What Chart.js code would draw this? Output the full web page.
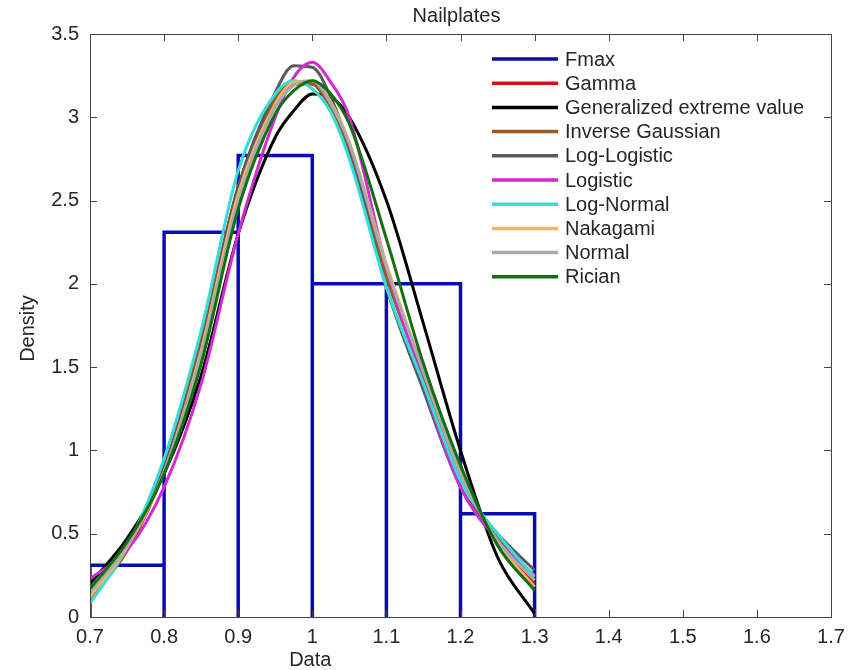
<!DOCTYPE html>
<html>
<head>
  <title>Nailplates</title>
  <script src="https://cdn.jsdelivr.net/npm/chart.js"></script>
  <style>
    body { margin: 0; background: #fff; }
  </style>
</head>
<body>
  <canvas id="fitChart" width="858" height="670"></canvas>

  <script>
    // histogram of Fmax (bin edges + density heights)
    const binEdges = [0.7, 0.8, 0.9, 1.0, 1.1, 1.2, 1.3];
    const fmaxHeights = [0.31, 2.31, 2.77, 2.00, 2.00, 0.62];

    // x positions where the fitted densities were read
    const curveX = [0.70, 0.75, 0.80, 0.85, 0.90, 0.95, 0.975, 1.00, 1.025, 1.05, 1.10, 1.15, 1.20, 1.25, 1.30];

    const gammaY     = [0.12, 0.40, 0.88, 1.65, 2.58, 3.10, 3.20, 3.20, 3.06, 2.80, 2.06, 1.45, 0.86, 0.46, 0.20];
    const gevY       = [0.20, 0.47, 0.86, 1.45, 2.30, 2.88, 3.04, 3.14, 3.12, 3.00, 2.50, 1.76, 1.00, 0.36, 0.02];
    const invGaussY  = [0.11, 0.40, 0.90, 1.66, 2.58, 3.11, 3.21, 3.20, 3.05, 2.79, 2.04, 1.44, 0.84, 0.48, 0.22];
    const logLogY    = [0.12, 0.42, 0.90, 1.62, 2.58, 3.15, 3.31, 3.30, 3.12, 2.82, 1.98, 1.36, 0.78, 0.50, 0.28];
    const logisticY  = [0.23, 0.40, 0.78, 1.40, 2.30, 3.00, 3.24, 3.33, 3.21, 3.00, 2.10, 1.40, 0.78, 0.46, 0.25];
    const logNormalY = [0.08, 0.42, 0.95, 1.72, 2.68, 3.14, 3.22, 3.17, 3.03, 2.75, 1.98, 1.40, 0.82, 0.50, 0.24];
    const nakagamiY  = [0.12, 0.42, 0.87, 1.60, 2.54, 3.08, 3.21, 3.22, 3.09, 2.85, 2.12, 1.48, 0.88, 0.45, 0.18];
    const normalY    = [0.15, 0.43, 0.87, 1.58, 2.50, 3.06, 3.19, 3.22, 3.08, 2.84, 2.10, 1.47, 0.86, 0.46, 0.22];
    const ricianY    = [0.17, 0.45, 0.86, 1.52, 2.45, 3.02, 3.16, 3.22, 3.14, 2.96, 2.27, 1.52, 0.91, 0.43, 0.16];

    const xTickVals = [0.7, 0.8, 0.9, 1.0, 1.1, 1.2, 1.3, 1.4, 1.5, 1.6, 1.7];
    const yTickVals = [0, 0.5, 1, 1.5, 2, 2.5, 3, 3.5];

    const seriesNames = ['Gamma', 'Generalized extreme value', 'Inverse Gaussian', 'Log-Logistic',
      'Logistic', 'Log-Normal', 'Nakagami', 'Normal', 'Rician'];
    const seriesValues = [gammaY, gevY, invGaussY, logLogY, logisticY, logNormalY, nakagamiY, normalY, ricianY];
    const seriesColors = ['#dd1111', '#000000', '#9a5a22', '#5a5a5a', '#d42ad4', '#33dddd', '#f2b46a', '#aaaaaa', '#127012'];

    // histogram outline as one stepped path
    const histPoints = [];
    for (let i = 0; i < fmaxHeights.length; i++) {
      histPoints.push({ x: binEdges[i], y: 0 });
      histPoints.push({ x: binEdges[i], y: fmaxHeights[i] });
      histPoints.push({ x: binEdges[i + 1], y: fmaxHeights[i] });
      histPoints.push({ x: binEdges[i + 1], y: 0 });
    }

    const datasets = [{
      label: 'Fmax',
      data: histPoints,
      borderColor: '#0a0ab4',
      borderWidth: 3.5,
      tension: 0,
      pointRadius: 0,
      order: seriesNames.length + 1,
    }];
    seriesNames.forEach((name, i) => {
      datasets.push({
        label: name,
        data: curveX.map((x, j) => ({ x: x, y: seriesValues[i][j] })),
        borderColor: seriesColors[i],
        borderWidth: 3,
        cubicInterpolationMode: 'monotone',
        pointRadius: 0,
        order: seriesNames.length - i, // later series drawn on top, like matlab
      });
    });

    const FONT = '"Liberation Sans", Arial, sans-serif';
    const TEXT = '#262626';

    // box, inward ticks, legend and axis labels
    const matlabFrame = {
      id: 'matlabFrame',
      afterDraw(chart) {
        const { ctx, chartArea: a, scales } = chart;
        const sx = scales.x, sy = scales.y;
        ctx.save();
        ctx.strokeStyle = '#444';
        ctx.lineWidth = 1;
        ctx.strokeRect(a.left + 0.5, a.top + 0.5, a.width, a.height);

        const tl = 7;
        ctx.beginPath();
        xTickVals.forEach(v => {
          const px = Math.round(sx.getPixelForValue(v)) + 0.5;
          ctx.moveTo(px, a.bottom); ctx.lineTo(px, a.bottom - tl);
          ctx.moveTo(px, a.top); ctx.lineTo(px, a.top + tl);
        });
        yTickVals.forEach(v => {
          const py = Math.round(sy.getPixelForValue(v)) + 0.5;
          ctx.moveTo(a.left, py); ctx.lineTo(a.left + tl, py);
          ctx.moveTo(a.right, py); ctx.lineTo(a.right - tl, py);
        });
        ctx.stroke();

        // legend (no box), top right inside plot
        ctx.font = '20px ' + FONT;
        ctx.textBaseline = 'middle';
        ctx.textAlign = 'left';
        const lx = a.left + 402, ly = a.top + 25, step = 24.2;
        chart.data.datasets.forEach((ds, i) => {
          const yy = ly + i * step;
          ctx.strokeStyle = ds.borderColor;
          ctx.lineWidth = 3.5;
          ctx.beginPath();
          ctx.moveTo(lx, yy);
          ctx.lineTo(lx + 66, yy);
          ctx.stroke();
          ctx.fillStyle = TEXT;
          ctx.fillText(ds.label, lx + 73, yy + 1);
        });

        // title and axis labels
        ctx.fillStyle = TEXT;
        ctx.textAlign = 'center';
        ctx.fillText('Nailplates', (a.left + a.right) / 2 - 4, 16);
        ctx.fillText('Data', sx.getPixelForValue(1.0) - 2, 660);
        ctx.translate(28, (a.top + a.bottom) / 2 + 3);
        ctx.rotate(-Math.PI / 2);
        ctx.fillText('Density', 0, 0);
        ctx.restore();
      }
    };

    const ctx = document.getElementById('fitChart').getContext('2d');
    const chart = new Chart(ctx, {
      type: 'line',
      data: { datasets: datasets },
      options: {
        responsive: false,
        animation: false,
        layout: { padding: { top: 34, right: 27, left: 0, bottom: 0 } },
        plugins: {
          legend: { display: false },
          tooltip: { enabled: false },
          title: { display: false },
        },
        scales: {
          x: {
            type: 'linear',
            min: 0.7,
            max: 1.7,
            afterBuildTicks: s => { s.ticks = xTickVals.map(v => ({ value: v })); },
            afterFit: s => { s.height = 53; },
            grid: { display: false },
            border: { display: false },
            ticks: {
              color: TEXT,
              font: { family: FONT, size: 20 },
              padding: 0,
              maxRotation: 0,
              autoSkip: false,
              callback: v => String(v),
            },
          },
          y: {
            min: 0,
            max: 3.5,
            afterBuildTicks: s => { s.ticks = yTickVals.map(v => ({ value: v })); },
            afterFit: s => { s.width = 90; },
            grid: { display: false },
            border: { display: false },
            ticks: {
              color: TEXT,
              font: { family: FONT, size: 20 },
              padding: 3,
              callback: v => String(v),
            },
          },
        },
      },
      plugins: [matlabFrame],
    });
  </script>
</body>
</html>
